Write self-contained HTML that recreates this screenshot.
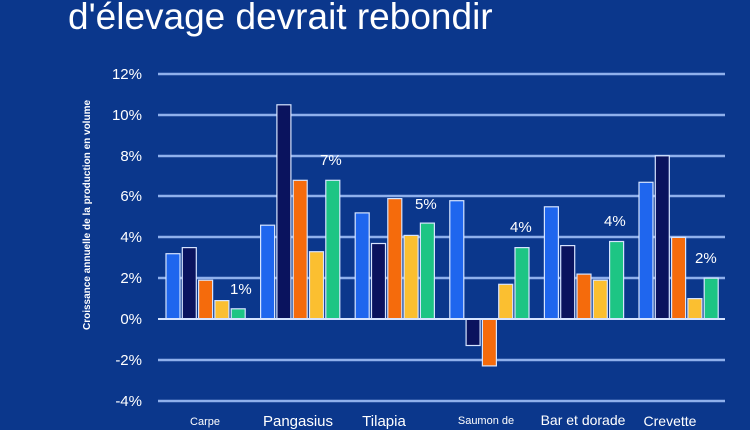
<!DOCTYPE html>
<html><head><meta charset="utf-8"><style>
body{margin:0;background:#0b378c;}
svg{display:block}
</style></head><body>
<svg width="750" height="430" xmlns="http://www.w3.org/2000/svg" font-family="Liberation Sans, sans-serif">
<rect width="750" height="430" fill="#0b378c"/>
<text x="68" y="29" fill="#fff" font-size="37">d'élevage devrait rebondir</text>
<g stroke="#8fb0ec" stroke-width="2.5">
<line x1="158" x2="725" y1="74" y2="74"/><line x1="158" x2="725" y1="115" y2="115"/>
<line x1="158" x2="725" y1="156" y2="156"/><line x1="158" x2="725" y1="196" y2="196"/>
<line x1="158" x2="725" y1="237" y2="237"/><line x1="158" x2="725" y1="278" y2="278"/>
<line x1="158" x2="725" y1="360" y2="360"/><line x1="158" x2="725" y1="401" y2="401"/>
</g>
<g fill="#fff" font-size="15" text-anchor="end">
<text x="142" y="79">12%</text><text x="142" y="120">10%</text><text x="142" y="161">8%</text>
<text x="142" y="201">6%</text><text x="142" y="242">4%</text><text x="142" y="283">2%</text>
<text x="142" y="324">0%</text><text x="142" y="365">-2%</text><text x="142" y="406">-4%</text>
</g>
<text transform="translate(90,215) rotate(-90)" fill="#fff" font-size="10" font-weight="bold" text-anchor="middle">Croissance annuelle de la production en volume</text>
<g stroke="#d6e4ff" stroke-width="1.2">
<rect x="166" y="253.7" width="14" height="65.3" fill="#1f66ee"/>
<rect x="182.3" y="247.6" width="14" height="71.4" fill="#0a135e"/>
<rect x="198.6" y="280.2" width="14" height="38.8" fill="#f56b0c"/>
<rect x="214.9" y="300.6" width="14" height="18.4" fill="#fbbf30"/>
<rect x="231.2" y="308.8" width="14" height="10.2" fill="#1dc584"/>

<rect x="260.6" y="225.2" width="14" height="93.8" fill="#1f66ee"/>
<rect x="276.9" y="104.8" width="14" height="214.2" fill="#0a135e"/>
<rect x="293.2" y="180.3" width="14" height="138.7" fill="#f56b0c"/>
<rect x="309.5" y="251.7" width="14" height="67.3" fill="#fbbf30"/>
<rect x="325.8" y="180.3" width="14" height="138.7" fill="#1dc584"/>

<rect x="355.2" y="212.9" width="14" height="106.1" fill="#1f66ee"/>
<rect x="371.5" y="243.5" width="14" height="75.5" fill="#0a135e"/>
<rect x="387.8" y="198.6" width="14" height="120.4" fill="#f56b0c"/>
<rect x="404.1" y="235.4" width="14" height="83.6" fill="#fbbf30"/>
<rect x="420.4" y="223.1" width="14" height="95.9" fill="#1dc584"/>

<rect x="449.8" y="200.7" width="14" height="118.3" fill="#1f66ee"/>
<rect x="466.1" y="319" width="14" height="26.5" fill="#0a135e"/>
<rect x="482.4" y="319" width="14" height="46.9" fill="#f56b0c"/>
<rect x="498.7" y="284.3" width="14" height="34.7" fill="#fbbf30"/>
<rect x="515" y="247.6" width="14" height="71.4" fill="#1dc584"/>

<rect x="544.4" y="206.8" width="14" height="112.2" fill="#1f66ee"/>
<rect x="560.7" y="245.6" width="14" height="73.4" fill="#0a135e"/>
<rect x="577" y="274.1" width="14" height="44.9" fill="#f56b0c"/>
<rect x="593.3" y="280.2" width="14" height="38.8" fill="#fbbf30"/>
<rect x="609.6" y="241.5" width="14" height="77.5" fill="#1dc584"/>

<rect x="639" y="182.3" width="14" height="136.7" fill="#1f66ee"/>
<rect x="655.3" y="155.8" width="14" height="163.2" fill="#0a135e"/>
<rect x="671.6" y="237.4" width="14" height="81.6" fill="#f56b0c"/>
<rect x="687.9" y="298.6" width="14" height="20.4" fill="#fbbf30"/>
<rect x="704.2" y="278.2" width="14" height="40.8" fill="#1dc584"/>
</g>
<line x1="158" x2="725" y1="319" y2="319" stroke="#d6e4ff" stroke-width="2"/>
<g fill="#fff" font-size="15">
<text x="230" y="294">1%</text><text x="320" y="165">7%</text><text x="415" y="209">5%</text>
<text x="510" y="232">4%</text><text x="604" y="226">4%</text><text x="695" y="263">2%</text>
</g>
<g fill="#fff" text-anchor="middle">
<text x="205" y="425" font-size="11">Carpe</text>
<text x="298" y="426" font-size="15">Pangasius</text>
<text x="384" y="426" font-size="15">Tilapia</text>
<text x="486" y="424" font-size="11">Saumon de</text>
<text x="583" y="425" font-size="14">Bar et dorade</text>
<text x="670" y="426" font-size="14">Crevette</text>
</g>
</svg>
</body></html>
